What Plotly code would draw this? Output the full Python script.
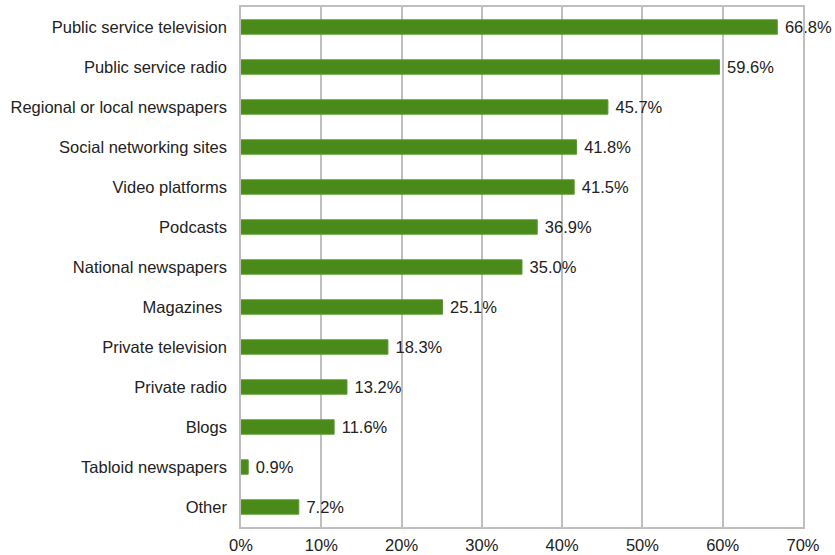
import plotly.graph_objects as go

categories = ["Public service television", "Public service radio", "Regional or local newspapers",
              "Social networking sites", "Video platforms", "Podcasts", "National newspapers",
              "Magazines ", "Private television", "Private radio", "Blogs", "Tabloid newspapers", "Other"]
values = [66.8, 59.6, 45.7, 41.8, 41.5, 36.9, 35.0, 25.1, 18.3, 13.2, 11.6, 0.9, 7.2]
x_ticks = [0, 10, 20, 30, 40, 50, 60, 70]
x_tick_labels = [f"{t}%" for t in x_ticks]

FONT = "Liberation Sans, Arial, sans-serif"

fig = go.Figure(go.Bar(
    x=values, y=categories, orientation="h",
    marker=dict(color="#4a8a1a", line=dict(color="#5a9a2a", width=1)),
    width=0.36,
    text=[f" {v:.1f}%" for v in values], textposition="outside",
    constraintext="none",
    textfont=dict(size=16.5, color="#222222", family=FONT),
    cliponaxis=False,
))

fig.update_layout(
    width=835, height=555,
    margin=dict(l=241, r=32, t=7, b=28, autoexpand=False),
    plot_bgcolor="white", paper_bgcolor="white",
    showlegend=False,
    font=dict(family=FONT, size=16.5, color="#222222"),
)
fig.update_xaxes(
    range=[0, 70], tickvals=x_ticks, ticktext=x_tick_labels,
    showgrid=True, gridcolor="#bfbfbf", gridwidth=1.5,
    showline=True, linecolor="#bfbfbf", linewidth=1.5, mirror=True,
    zeroline=False, ticks="", ticklabelstandoff=2, tickfont=dict(size=16.5),
    automargin=False,
)
fig.update_yaxes(
    categoryorder="array", categoryarray=categories, autorange="reversed",
    showline=True, linecolor="#bfbfbf", linewidth=1.5, mirror=True,
    showgrid=False, ticks="", ticklabelstandoff=9, tickfont=dict(size=16.5),
    automargin=False,
)

fig.write_html("out.html")
